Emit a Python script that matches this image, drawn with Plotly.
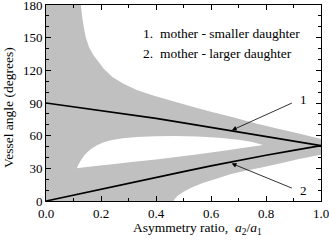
import plotly.graph_objects as go

# Line 1: mother - smaller daughter ; Line 2: mother - larger daughter
ratio = [0.0, 0.1, 0.2, 0.3, 0.4, 0.5, 0.6, 0.7, 0.8, 0.9, 1.0]
angle1 = [90, 86.5, 83, 79.5, 75.8, 71.8, 67.5, 63.2, 59.2, 55, 50.8]
angle2 = [0, 5.5, 11, 16.3, 21.6, 27, 32.2, 37.3, 42, 46.5, 50.8]

# upper boundary of shaded region
up_a = [0.127, 0.131, 0.137, 0.145, 0.157, 0.172, 0.19, 0.21, 0.24, 0.28, 0.33, 0.39,
        0.45, 0.52, 0.6, 0.68, 0.76, 0.84, 0.92, 1.0]
up_v = [180, 170, 160, 150, 141, 134, 128, 121.5, 114, 108, 102, 97, 92.5, 87.5, 82,
        77, 71.5, 66.5, 62, 57]
# lower boundary of shaded region
lo_a = [0.463, 0.47, 0.48, 0.5, 0.53, 0.57, 0.62, 0.67, 0.72, 0.78, 0.85, 0.92, 1.0]
lo_v = [0, 2.5, 5, 8.5, 12.5, 16.5, 20.5, 24.5, 27.5, 30.5, 34.5, 38.5, 42.5]
# inner unshaded tongue
tu_a = [0.112, 0.118, 0.127, 0.138, 0.15, 0.165, 0.185, 0.21, 0.24, 0.28, 0.33, 0.4,
        0.47, 0.55, 0.63, 0.7, 0.75, 0.79]
tu_v = [30, 33.5, 37.5, 41.5, 44.8, 48, 51.3, 54, 56, 57.6, 58.7, 59.4, 59.7, 59.3,
        58, 56.2, 54.2, 51.4]
tl_a = [0.79, 0.72, 0.64, 0.56, 0.48, 0.4, 0.32, 0.24, 0.18, 0.14, 0.112]
tl_v = [51.4, 48.8, 46, 43.2, 40.6, 38.2, 36, 33.8, 32.2, 31, 30]

x_ticks = [0.0, 0.2, 0.4, 0.6, 0.8, 1.0]
x_labels = ["0.0", "0.2", "0.4", "0.6", "0.8", "1.0"]
y_ticks = [0, 30, 60, 90, 120, 150, 180]

GRAY = "#c0c0c0"
FONT = "'Times New Roman', 'Liberation Serif', serif"

fig = go.Figure()

gx = [0, 0] + up_a + lo_a[::-1] + [0]
gy = [0, 180] + up_v + lo_v[::-1] + [0]
fig.add_trace(go.Scatter(x=gx, y=gy, fill="toself", fillcolor=GRAY, mode="none",
                         hoverinfo="skip", showlegend=False))
fig.add_trace(go.Scatter(x=tu_a + tl_a, y=tu_v + tl_v, fill="toself", fillcolor="white",
                         mode="none", hoverinfo="skip", showlegend=False))
fig.add_trace(go.Scatter(x=ratio, y=angle1, mode="lines", line=dict(color="black", width=1.7),
                         showlegend=False))
fig.add_trace(go.Scatter(x=ratio, y=angle2, mode="lines", line=dict(color="black", width=1.7),
                         showlegend=False))

def px2paper(px, py):
    return (px - 46) / 275, (201 - py) / 196

anns = []
# arrows
for head, tail in [((0.676, 65.0), (0.905, 91.2)), ((0.675, 34.5), (0.905, 10.7))]:
    anns.append(dict(x=head[0], y=head[1], ax=tail[0], ay=tail[1], xref="x", yref="y",
                     axref="x", ayref="y", text=" ", showarrow=True, arrowhead=2,
                     arrowsize=1.2, arrowwidth=0.8, arrowcolor="black", standoff=0,
                     startstandoff=0))
anns.append(dict(x=0.935, y=92.8, xref="x", yref="y", text="1", showarrow=False,
                 font=dict(family=FONT, size=13, color="black")))
anns.append(dict(x=0.935, y=9.2, xref="x", yref="y", text="2", showarrow=False,
                 font=dict(family=FONT, size=13, color="black")))
anns.append(dict(x=0.345, y=153.4, xref="x", yref="y", xanchor="left", yanchor="middle",
                 text="1.&nbsp; mother - smaller daughter", showarrow=False,
                 font=dict(family=FONT, size=13.5, color="black")))
anns.append(dict(x=0.345, y=135.6, xref="x", yref="y", xanchor="left", yanchor="middle",
                 text="2.&nbsp; mother - larger daughter", showarrow=False,
                 font=dict(family=FONT, size=13.5, color="black")))
xx, yy = px2paper(8, 108)
anns.append(dict(x=xx, y=yy, xref="paper", yref="paper", xanchor="center", yanchor="middle",
                 text="Vessel angle (degrees)",
                 textangle=-90, showarrow=False, font=dict(family=FONT, size=13.5, color="black")))
xx, yy = px2paper(197, 228)
anns.append(dict(x=xx, y=yy, xref="paper", yref="paper", xanchor="center", yanchor="middle",
                 text="Asymmetry ratio,&nbsp; <i>a</i><sub>2</sub>/<i>a</i><sub>1</sub>",
                 showarrow=False, font=dict(family=FONT, size=13.5, color="black")))

axis_common = dict(showgrid=False, zeroline=False, showline=True, linecolor="black",
                   linewidth=1, mirror="allticks", ticks="inside", tickcolor="black",
                   tickwidth=1, ticklen=5, ticklabeloverflow="allow",
                   tickfont=dict(family=FONT, size=13, color="black"))

fig.update_layout(
    width=329, height=243,
    margin=dict(l=46, r=8, t=5, b=42, autoexpand=False),
    paper_bgcolor="white", plot_bgcolor="white",
    font=dict(family=FONT, color="black"),
    xaxis=dict(range=[0, 1], tickvals=x_ticks, ticktext=x_labels,
               minor=dict(dtick=0.1, tick0=0, ticks="inside", ticklen=3, tickcolor="black"),
               **axis_common),
    yaxis=dict(range=[0, 180], tickvals=y_ticks,
               minor=dict(dtick=10, tick0=0, ticks="inside", ticklen=3, tickcolor="black"),
               **axis_common),
    annotations=anns,
)

fig.write_html("out.html", config={"displayModeBar": False},
               post_script="document.body.style.margin='0';document.body.style.padding='0';")
